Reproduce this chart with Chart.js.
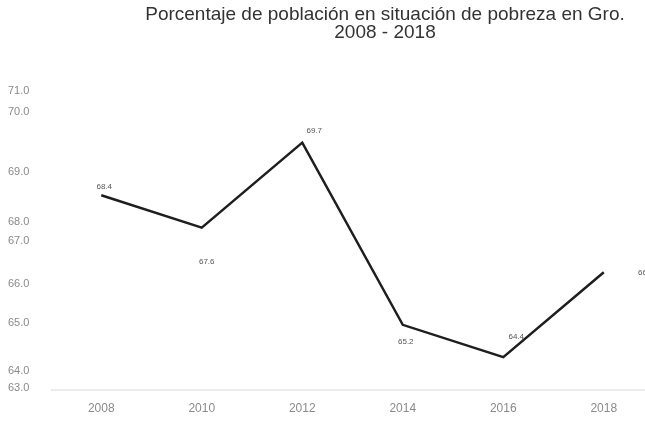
<!DOCTYPE html>
<html>
<head>
<meta charset="utf-8">
<script src="https://cdn.jsdelivr.net/npm/chart.js@4.4.1/dist/chart.umd.min.js"></script>
<style>
  html, body { margin: 0; padding: 0; background: #fff; }
  #wrap { width: 645px; height: 431px; }
</style>
</head>
<body>
<div id="wrap"><canvas id="lineChart"></canvas></div>
<script>
const years = ['2008', '2010', '2012', '2014', '2016', '2018'];
const pobreza = [68.4, 67.6, 69.7, 65.2, 64.4, 66.5];
const valueLabels = ['68.4', '67.6', '69.7', '65.2', '64.4', '66.5'];

// the original axis labels sit at uneven heights
const yTickValues = [70.98, 70.45, 68.97, 67.73, 67.28, 66.22, 65.25, 64.06, 63.64];
const yTickLabels = ['71.0', '70.0', '69.0', '68.0', '67.0', '66.0', '65.0', '64.0', '63.0'];

const titleLines = ['Porcentaje de población en situación de pobreza en Gro.', '2008 - 2018'];

// offsets of the value labels from their points
const labelOffsets = [[3, -8], [5, 34], [12, -12], [3, 17], [13, -20], [42, 1]];

const titlePlugin = {
  id: 'titleText',
  afterDraw(chart) {
    const ctx = chart.ctx;
    ctx.save();
    ctx.fillStyle = '#333';
    ctx.font = '19px "Liberation Sans", Arial, sans-serif';
    ctx.textAlign = 'center';
    ctx.textBaseline = 'middle';
    ctx.fillText(titleLines[0], 385, 15);
    ctx.fillText(titleLines[1], 385, 33);
    ctx.restore();
  }
};

const valueLabelPlugin = {
  id: 'valueLabels',
  afterDatasetsDraw(chart) {
    const ctx = chart.ctx;
    const meta = chart.getDatasetMeta(0);
    ctx.save();
    ctx.fillStyle = '#555';
    ctx.font = '8px "Liberation Sans", Arial, sans-serif';
    ctx.textAlign = 'center';
    ctx.textBaseline = 'middle';
    meta.data.forEach(function (pt, i) {
      ctx.fillText(valueLabels[i], pt.x + labelOffsets[i][0], pt.y + labelOffsets[i][1]);
    });
    ctx.restore();
  }
};

const ctx = document.getElementById('lineChart').getContext('2d');
new Chart(ctx, {
  type: 'line',
  data: {
    datasets: [{
      label: 'Pobreza',
      data: pobreza.map((v, i) => ({ x: i, y: v })),
      borderColor: '#1e1e1e',
      borderWidth: 2.5,
      pointRadius: 0,
      tension: 0,
      fill: false,
      clip: false
    }]
  },
  options: {
    responsive: true,
    maintainAspectRatio: false,
    animation: false,
    layout: { padding: { top: 88, left: 8, right: 0, bottom: 11 } },
    plugins: {
      legend: { display: false },
      title: { display: false },
      tooltip: { enabled: false }
    },
    scales: {
      x: {
        type: 'linear',
        min: -0.49,
        max: 5.41,
        grid: { display: false },
        border: { display: true, color: '#ececec', width: 2 },
        afterBuildTicks: function (scale) {
          scale.ticks = years.map((y, i) => ({ value: i }));
        },
        ticks: {
          color: '#8a8a8a',
          font: { size: 12, family: '"Liberation Sans", Arial, sans-serif' },
          padding: 4,
          maxRotation: 0,
          callback: function (value) { return years[value]; }
        }
      },
      y: {
        min: 63.6,
        max: 71.05,
        grid: { display: false, drawTicks: false },
        border: { display: false },
        afterBuildTicks: function (scale) {
          scale.ticks = yTickValues.map(v => ({ value: v }));
        },
        afterFit: function (scale) { scale.width = 44; },
        ticks: {
          color: '#8a8a8a',
          font: { size: 11, family: '"Liberation Sans", Arial, sans-serif' },
          crossAlign: 'far',
          callback: function (value, index) { return yTickLabels[index]; }
        }
      }
    }
  },
  plugins: [titlePlugin, valueLabelPlugin]
});
</script>
</body>
</html>
